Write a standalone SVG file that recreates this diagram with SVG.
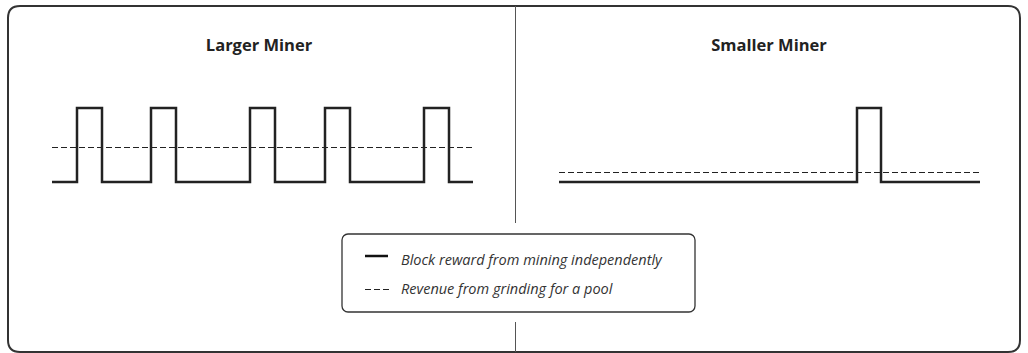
<svg xmlns="http://www.w3.org/2000/svg" width="1028" height="353" viewBox="0 0 1028 353">
<style>
.frame{fill:none;stroke:#333;stroke-width:2}
.wave{fill:none;stroke:#222;stroke-width:2.5}
.dash{fill:none;stroke:#222;stroke-width:1;stroke-dasharray:6 3}
.title{font-family:"Open Sans","Liberation Sans",sans-serif;font-weight:bold;font-size:16.5px;fill:#222;text-anchor:middle}
.leg{font-family:"Open Sans","Liberation Sans",sans-serif;font-style:italic;font-size:14.5px;fill:#333}
.div{stroke:#555;stroke-width:1}
</style>
<rect width="1028" height="353" fill="#fff"/>
<g id="frame">
<path class="frame" d="M8,340 V18 Q8,6 20,6 H1008 Q1020,6 1020,18 V340 Q1020,352 1008,352 H20 Q8,352 8,340 Z"/>
</g>
<g id="connectors">
<line class="div" x1="515.5" y1="6" x2="515.5" y2="223"/>
<line class="div" x1="515.5" y1="322" x2="515.5" y2="352"/>
</g>
<g id="larger-miner">
<text class="title" x="259" y="51">Larger Miner</text>
<line class="dash" x1="52" y1="147.5" x2="475" y2="147.5"/>
<path class="wave" d="M52,182 H77 V108 H102 V182 H151 V108 H176 V182 H250 V108 H275 V182 H325 V108 H350 V182 H424 V108 H449 V182 H473"/>
</g>
<g id="smaller-miner">
<text class="title" x="769" y="51">Smaller Miner</text>
<line class="dash" x1="559" y1="172.5" x2="982" y2="172.5"/>
<path class="wave" d="M559,182 H857 V108 H881 V182 H980"/>
</g>
<g id="legend">
<rect x="342" y="234" width="353" height="78" rx="6" fill="#fff" stroke="#333" stroke-width="1.3"/>
<line x1="365" y1="256" x2="388" y2="256" stroke="#111" stroke-width="2.5"/>
<text class="leg" x="401" y="265">Block reward from mining independently</text>
<line class="dash" x1="365" y1="289.5" x2="390" y2="289.5" stroke-dasharray="5 4"/>
<text class="leg" x="401" y="294">Revenue from grinding for a pool</text>
</g>
</svg>
